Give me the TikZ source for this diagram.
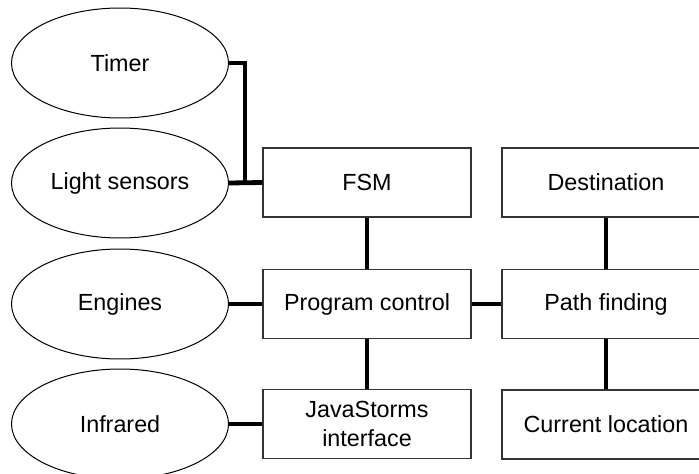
\documentclass[tikz,border=0pt]{standalone}
\usepackage{fontspec}
\setmainfont{Liberation Sans}
\usetikzlibrary{shapes.geometric}
\begin{document}
\begin{tikzpicture}[x=0.75pt,y=-0.75pt,
  every node/.style={font=\fontsize{17.5pt}{21.5pt}\selectfont, inner sep=0pt},
  oval/.style={ellipse, draw=black, line width=0.75pt, minimum width=162.75pt, minimum height=82.5pt},
  block/.style={rectangle, draw=black!80, line width=1pt, minimum width=156pt, minimum height=51.75pt, align=center},
  link/.style={line width=3.6pt, line join=miter}]
\useasboundingbox (0,0) rectangle (699,474);
\clip (0,0) rectangle (699,474);
\node[oval] (timer) at (120,63) {Timer};
\node[oval] (light) at (120,183) {Light sensors};
\node[oval] (engines) at (120,304) {Engines};
\node[oval] (infra) at (120,424) {Infrared};
\node[block] (fsm) at (367,182.5) {FSM};
\node[block] (dest) at (606,182.5) {Destination};
\node[block] (prog) at (367,304) {Program control};
\node[block] (path) at (606,304) {Path finding};
\node[block] (java) at (367,424) {JavaStorms\\interface};
\node[block] (cur) at (606,424.5) {Current location};
\coordinate (joint) at (245,183);
\draw[link] (timer.east) -| (joint);
\draw[link] (light.east) -- (fsm.west);
\draw[link] (fsm.south) -- (prog.north);
\draw[link] (prog.south) -- (java.north);
\draw[link] (engines.east) -- (prog.west);
\draw[link] (infra.east) -- (java.west);
\draw[link] (prog.east) -- (path.west);
\draw[link] (dest.south) -- (path.north);
\draw[link] (path.south) -- (cur.north);
\end{tikzpicture}
\end{document}
